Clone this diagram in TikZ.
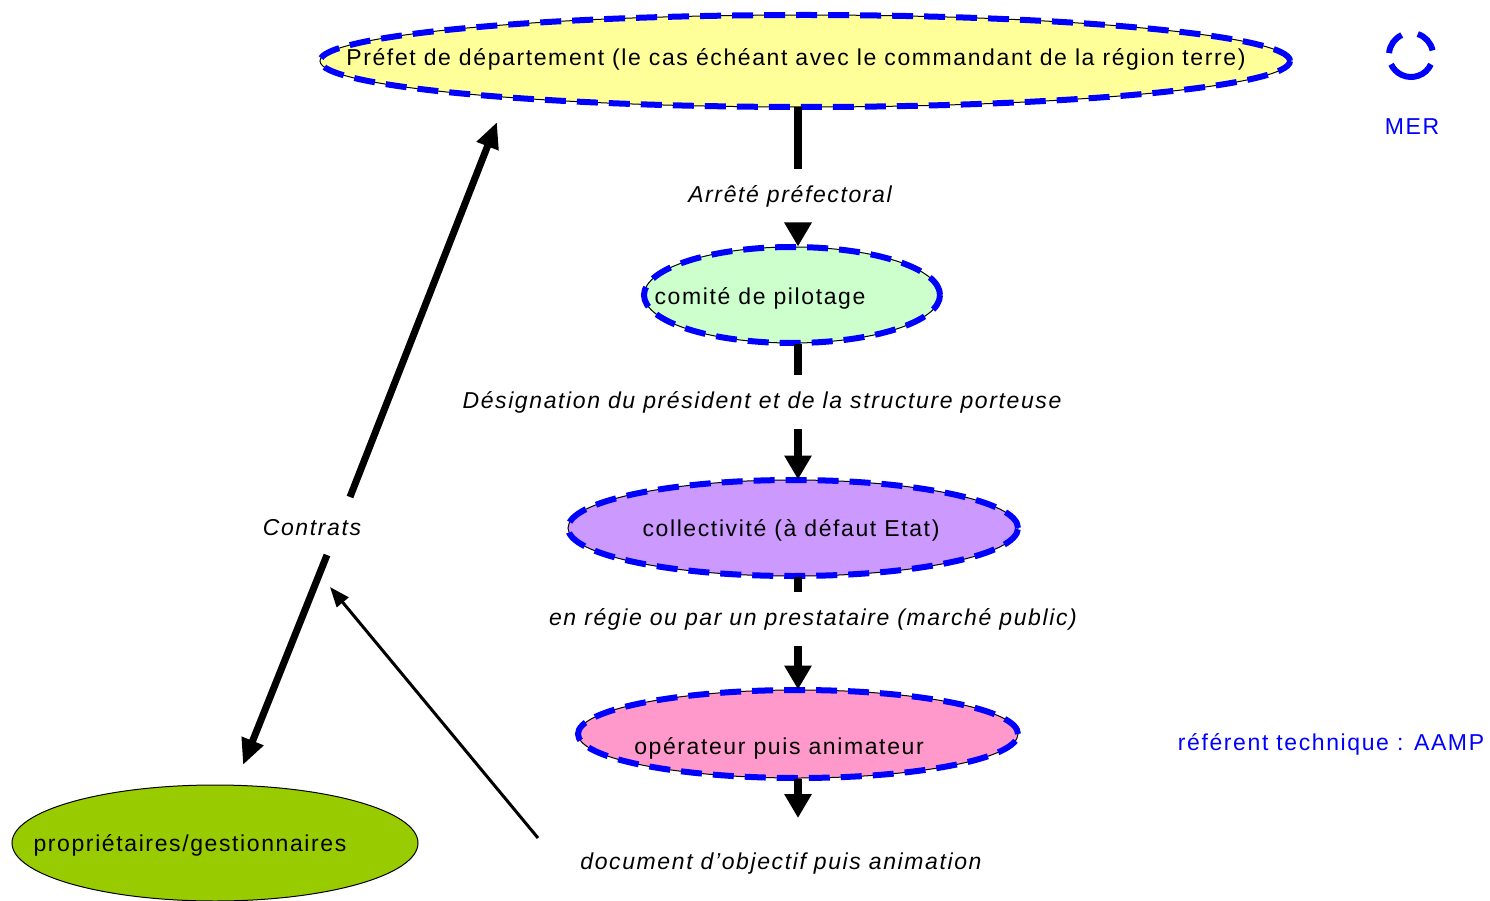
\documentclass[tikz,border=0pt]{standalone}
\usepackage{fontspec}
\setmainfont{Liberation Sans}
\newfontfamily\lsp[LetterSpace=7]{Liberation Sans}
\usetikzlibrary{shapes.geometric,arrows.meta}
\definecolor{cyel}{HTML}{FFFF99}
\definecolor{cgrn}{HTML}{CCFFCC}
\definecolor{cpur}{HTML}{CC99FF}
\definecolor{cpnk}{HTML}{FF99CC}
\definecolor{colv}{HTML}{99CC00}
\definecolor{cblu}{HTML}{0000FF}
\begin{document}
\begin{tikzpicture}[x=1pt,y=-1pt,
  ell/.style={ellipse, draw=black, line width=1pt, inner sep=0pt,
    postaction={draw=cblu, line width=6pt, dash pattern=on 21pt off 11pt}},
  plainell/.style={ellipse, draw=black, line width=1pt, inner sep=0pt},
  txt/.style={font=\lsp\fontsize{23}{27}\selectfont, inner sep=0pt},
  itl/.style={font=\lsp\fontsize{23}{27}\selectfont\itshape, inner sep=0pt},
  gap/.style={itl, minimum height=54pt},
  vline/.style={line width=8pt},
  varr/.style={line width=8pt, -{Triangle[width=26pt,length=24pt]}},
  darr/.style={line width=7pt, -{Triangle[width=22pt,length=26pt]}},
  tarr/.style={line width=3pt, -{Triangle[width=15pt,length=20pt]}},
]
\useasboundingbox (0,0) rectangle (1490,901);

% ellipses
\node[ell, fill=cyel, minimum width=970pt, minimum height=92pt] (e1) at (805,61) {};
\node[ell, fill=cgrn, minimum width=296pt, minimum height=96pt] (e2) at (792,295) {};
\node[ell, fill=cpur, minimum width=450pt, minimum height=96pt] (e3) at (793,528) {};
\node[ell, fill=cpnk, minimum width=440pt, minimum height=88pt] (e4) at (798,734) {};
\node[plainell, fill=colv, minimum width=406pt, minimum height=116pt] (e5) at (215,843) {};

% texts in ellipses
\node[txt] (t1) at (796,59) {Préfet de département (le cas échéant avec le commandant de la région terre)};
\node[txt] (t2) at (760,298) {comité de pilotage};
\node[txt] (t3) at (791,530) {collectivité (à défaut Etat)};
\node[txt] (t4) at (779,748) {opérateur puis animateur};
\node[txt] (t5) at (190,845) {propriétaires/gestionnaires};

% labels
\coordinate (ax) at (798,0);
\node[gap] (la) at (790,196) {Arrêté préfectoral};
\node[gap] (lb) at (762,402) {Désignation du président et de la structure porteuse};
\node[gap] (lc) at (813,619) {en régie ou par un prestataire (marché public)};
\node[itl] (ld) at (781,864) {document d’objectif puis animation};
\node[itl] (ct) at (312,528) {Contrats};
\node[txt, text=cblu] (mer) at (1412,127) {MER};
\node[txt, text=cblu] (ref) at (1331,744) {référent technique : AAMP};

% vertical connectors
\draw[vline] (e1.south -| ax) -- (la.north -| ax);
\draw[varr] (la.south -| ax) -- (e2.north -| ax);
\draw[vline] (e2.south -| ax) -- (lb.north -| ax);
\draw[varr] (lb.south -| ax) -- (e3.north -| ax);
\draw[vline] (e3.south -| ax) -- (lc.north -| ax);
\draw[varr] (lc.south -| ax) -- (e4.north -| ax);
\coordinate (d4) at (798,818);
\draw[varr] (e4.south -| ax) -- (d4);

% contrats double arrow
\coordinate (c1) at (350,497);
\coordinate (c2) at (327,555);
\coordinate (yt) at (497,122);
\coordinate (gt) at (243,765);
\draw[darr] (c1) -- (yt);
\draw[darr] (c2) -- (gt);

% thin arrow
\coordinate (ts) at (538,838);
\coordinate (te) at (330,587);
\draw[tarr] (ts) -- (te);

% MER icon
\begin{scope}[cblu, line width=6pt]
\draw (1411,55) ++(25:22) arc[start angle=25, end angle=155, radius=22];
\draw (1411,55) ++(185:22) arc[start angle=185, end angle=245, radius=22];
\draw (1411,55) ++(288:22) arc[start angle=288, end angle=348, radius=22];
\end{scope}
\end{tikzpicture}
\end{document}
